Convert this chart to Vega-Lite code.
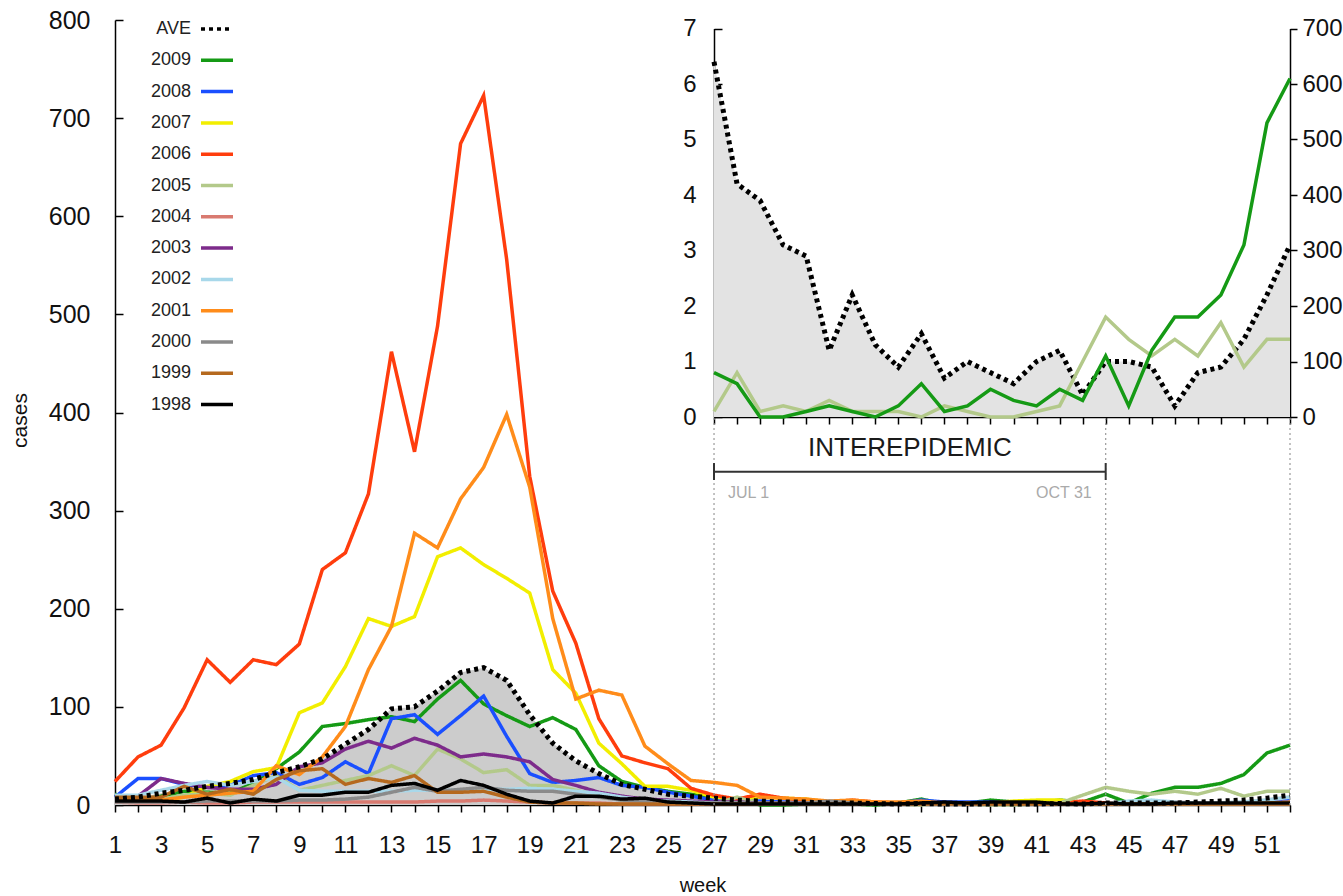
{
  "$schema": "https://vega.github.io/schema/vega-lite/v6.json",
  "autosize": {"type": "none"},
  "width": 1175,
  "height": 785,
  "padding": {"left": 115, "top": 20, "right": 53, "bottom": 91},
  "background": "white",
  "config": {
    "view": {"stroke": null},
    "font": "Liberation Sans",
    "axis": {"grid": false, "domainColor": "#000", "tickColor": "#000", "labelColor": "#111", "titleColor": "#111", "labelFont": "Liberation Sans", "titleFont": "Liberation Sans", "titleFontWeight": "normal", "domainWidth": 1.5, "tickWidth": 1.5}
  },
  "datasets": {
    "weekly": [
      {"week":1,"AVE":6,"2009":11,"2008":8,"2007":4,"2006":24,"2005":5,"2004":3,"2003":9,"2002":10,"2001":5,"2000":3,"1999":8,"1998":4},
      {"week":2,"AVE":8,"2009":5,"2008":27,"2007":4,"2006":49,"2005":5,"2004":2,"2003":9,"2002":10,"2001":5,"2000":3,"1999":8,"1998":4},
      {"week":3,"AVE":12,"2009":9,"2008":27,"2007":5,"2006":61,"2005":6,"2004":2,"2003":27,"2002":15,"2001":5,"2000":3,"1999":8,"1998":4},
      {"week":4,"AVE":15,"2009":14,"2008":21,"2007":8,"2006":99,"2005":10,"2004":3,"2003":22,"2002":20,"2001":8,"2000":3,"1999":19,"1998":3},
      {"week":5,"AVE":19,"2009":13,"2008":18,"2007":19,"2006":148,"2005":12,"2004":2,"2003":18,"2002":24,"2001":10,"2000":4,"1999":11,"1998":7},
      {"week":6,"AVE":22,"2009":12,"2008":20,"2007":24,"2006":125,"2005":10,"2004":2,"2003":16,"2002":20,"2001":12,"2000":4,"1999":16,"1998":2},
      {"week":7,"AVE":26,"2009":22,"2008":30,"2007":34,"2006":148,"2005":20,"2004":3,"2003":16,"2002":24,"2001":14,"2000":4,"1999":11,"1998":6},
      {"week":8,"AVE":33,"2009":37,"2008":33,"2007":38,"2006":143,"2005":30,"2004":3,"2003":21,"2002":28,"2001":40,"2000":4,"1999":26,"1998":4},
      {"week":9,"AVE":39,"2009":54,"2008":21,"2007":94,"2006":164,"2005":15,"2004":3,"2003":39,"2002":15,"2001":31,"2000":5,"1999":35,"1998":10},
      {"week":10,"AVE":47,"2009":80,"2008":28,"2007":104,"2006":240,"2005":20,"2004":3,"2003":43,"2002":14,"2001":49,"2000":5,"1999":37,"1998":10},
      {"week":11,"AVE":62,"2009":83,"2008":44,"2007":141,"2006":257,"2005":25,"2004":3,"2003":57,"2002":14,"2001":80,"2000":6,"1999":21,"1998":13},
      {"week":12,"AVE":77,"2009":87,"2008":32,"2007":190,"2006":317,"2005":30,"2004":3,"2003":65,"2002":14,"2001":138,"2000":8,"1999":27,"1998":13},
      {"week":13,"AVE":98,"2009":90,"2008":88,"2007":182,"2006":462,"2005":40,"2004":3,"2003":58,"2002":14,"2001":182,"2000":13,"1999":23,"1998":20},
      {"week":14,"AVE":100,"2009":85,"2008":92,"2007":192,"2006":360,"2005":30,"2004":3,"2003":68,"2002":15,"2001":277,"2000":18,"1999":30,"1998":22},
      {"week":15,"AVE":116,"2009":108,"2008":72,"2007":253,"2006":488,"2005":57,"2004":4,"2003":61,"2002":15,"2001":262,"2000":14,"1999":13,"1998":15},
      {"week":16,"AVE":135,"2009":127,"2008":91,"2007":262,"2006":674,"2005":47,"2004":4,"2003":49,"2002":15,"2001":312,"2000":16,"1999":13,"1998":25},
      {"week":17,"AVE":140,"2009":103,"2008":111,"2007":245,"2006":723,"2005":33,"2004":5,"2003":52,"2002":16,"2001":344,"2000":18,"1999":14,"1998":20},
      {"week":18,"AVE":127,"2009":91,"2008":70,"2007":231,"2006":556,"2005":36,"2004":4,"2003":49,"2002":16,"2001":398,"2000":15,"1999":8,"1998":11},
      {"week":19,"AVE":92,"2009":80,"2008":32,"2007":216,"2006":335,"2005":20,"2004":3,"2003":44,"2002":17,"2001":324,"2000":14,"1999":3,"1998":4},
      {"week":20,"AVE":63,"2009":89,"2008":23,"2007":138,"2006":218,"2005":20,"2004":2,"2003":26,"2002":16,"2001":190,"2000":14,"1999":2,"1998":2},
      {"week":21,"AVE":45,"2009":77,"2008":25,"2007":114,"2006":165,"2005":15,"2004":2,"2003":20,"2002":14,"2001":108,"2000":11,"1999":2,"1998":9},
      {"week":22,"AVE":32,"2009":40,"2008":28,"2007":63,"2006":88,"2005":10,"2004":2,"2003":13,"2002":12,"2001":117,"2000":8,"1999":1,"1998":9},
      {"week":23,"AVE":21,"2009":24,"2008":20,"2007":42,"2006":50,"2005":5,"2004":1,"2003":9,"2002":8,"2001":112,"2000":5,"1999":1,"1998":6},
      {"week":24,"AVE":16,"2009":18,"2008":18,"2007":19,"2006":43,"2005":3,"2004":1,"2003":6,"2002":5,"2001":60,"2000":4,"1999":1,"1998":7},
      {"week":25,"AVE":11,"2009":14,"2008":13,"2007":19,"2006":37,"2005":2,"2004":1,"2003":5,"2002":4,"2001":42,"2000":3,"1999":1,"1998":3},
      {"week":26,"AVE":9,"2009":11,"2008":9,"2007":15,"2006":17,"2005":2,"2004":1,"2003":4,"2002":3,"2001":25,"2000":2,"1999":1,"1998":2},
      {"week":27,"AVE":7,"2009":8,"2008":5,"2007":8,"2006":10,"2005":1,"2004":1,"2003":3,"2002":2,"2001":23,"2000":2,"1999":1,"1998":1,"AVE_inset":6.4,"i2009":0.8,"i2005":0.1},
      {"week":28,"AVE":5,"2009":6,"2008":4,"2007":6,"2006":6,"2005":8,"2004":1,"2003":3,"2002":2,"2001":20,"2000":2,"1999":1,"1998":1,"AVE_inset":4.2,"i2009":0.6,"i2005":0.8},
      {"week":29,"AVE":4,"2009":0,"2008":4,"2007":8,"2006":11,"2005":1,"2004":1,"2003":2,"2002":1,"2001":8,"2000":2,"1999":1,"1998":1,"AVE_inset":3.9,"i2009":0,"i2005":0.1},
      {"week":30,"AVE":3,"2009":0,"2008":3,"2007":7,"2006":7,"2005":2,"2004":1,"2003":2,"2002":1,"2001":7,"2000":2,"1999":1,"1998":1,"AVE_inset":3.1,"i2009":0,"i2005":0.2},
      {"week":31,"AVE":3,"2009":1,"2008":3,"2007":6,"2006":5,"2005":1,"2004":1,"2003":2,"2002":1,"2001":6,"2000":2,"1999":1,"1998":1,"AVE_inset":2.9,"i2009":0.1,"i2005":0.1},
      {"week":32,"AVE":2,"2009":2,"2008":2,"2007":3,"2006":3,"2005":3,"2004":1,"2003":2,"2002":1,"2001":4,"2000":4,"1999":1,"1998":1,"AVE_inset":1.2,"i2009":0.2,"i2005":0.3},
      {"week":33,"AVE":2,"2009":1,"2008":2,"2007":3,"2006":5,"2005":1,"2004":1,"2003":2,"2002":1,"2001":5,"2000":2,"1999":1,"1998":1,"AVE_inset":2.2,"i2009":0.1,"i2005":0.1},
      {"week":34,"AVE":1.5,"2009":0,"2008":2,"2007":2,"2006":3,"2005":1,"2004":1,"2003":1,"2002":1,"2001":3,"2000":1,"1999":1,"1998":1,"AVE_inset":1.3,"i2009":0,"i2005":0.1},
      {"week":35,"AVE":1,"2009":2,"2008":2,"2007":2,"2006":2,"2005":1,"2004":1,"2003":1,"2002":1,"2001":3,"2000":1,"1999":1,"1998":1,"AVE_inset":0.9,"i2009":0.2,"i2005":0.1},
      {"week":36,"AVE":1.5,"2009":6,"2008":5,"2007":2,"2006":2,"2005":0,"2004":1,"2003":1,"2002":1,"2001":4,"2000":1,"1999":1,"1998":2,"AVE_inset":1.5,"i2009":0.6,"i2005":0},
      {"week":37,"AVE":1,"2009":1,"2008":3,"2007":2,"2006":1,"2005":2,"2004":1,"2003":1,"2002":1,"2001":2,"2000":1,"1999":1,"1998":3,"AVE_inset":0.7,"i2009":0.1,"i2005":0.2},
      {"week":38,"AVE":1,"2009":2,"2008":3,"2007":2,"2006":1,"2005":1,"2004":1,"2003":1,"2002":1,"2001":2,"2000":1,"1999":1,"1998":2,"AVE_inset":1.0,"i2009":0.2,"i2005":0.1},
      {"week":39,"AVE":1,"2009":5,"2008":3,"2007":2,"2006":1,"2005":0,"2004":1,"2003":1,"2002":1,"2001":1,"2000":1,"1999":1,"1998":3,"AVE_inset":0.8,"i2009":0.5,"i2005":0},
      {"week":40,"AVE":1,"2009":3,"2008":2,"2007":4,"2006":1,"2005":0,"2004":1,"2003":1,"2002":1,"2001":1,"2000":1,"1999":1,"1998":3,"AVE_inset":0.6,"i2009":0.3,"i2005":0},
      {"week":41,"AVE":1,"2009":2,"2008":1,"2007":5,"2006":1,"2005":1,"2004":1,"2003":1,"2002":1,"2001":1,"2000":1,"1999":1,"1998":3,"AVE_inset":1.0,"i2009":0.2,"i2005":0.1},
      {"week":42,"AVE":1.5,"2009":5,"2008":1,"2007":5,"2006":2,"2005":2,"2004":1,"2003":1,"2002":1,"2001":1,"2000":1,"1999":1,"1998":1,"AVE_inset":1.2,"i2009":0.5,"i2005":0.2},
      {"week":43,"AVE":1,"2009":3,"2008":1,"2007":2,"2006":4,"2005":10,"2004":1,"2003":1,"2002":1,"2001":1,"2000":1,"1999":1,"1998":1,"AVE_inset":0.4,"i2009":0.3,"i2005":1.0},
      {"week":44,"AVE":2,"2009":11,"2008":1,"2007":1,"2006":2,"2005":18,"2004":1,"2003":1,"2002":1,"2001":1,"2000":1,"1999":1,"1998":2,"AVE_inset":1.0,"i2009":1.1,"i2005":1.8},
      {"week":45,"AVE":2,"2009":2,"2008":1,"2007":1,"2006":1,"2005":14,"2004":1,"2003":1,"2002":4,"2001":1,"2000":1,"1999":1,"1998":1,"AVE_inset":1.0,"i2009":0.2,"i2005":1.4},
      {"week":46,"AVE":2,"2009":12,"2008":1,"2007":1,"2006":1,"2005":11,"2004":1,"2003":1,"2002":5,"2001":1,"2000":1,"1999":1,"1998":1,"AVE_inset":0.9,"i2009":1.2,"i2005":1.1},
      {"week":47,"AVE":2,"2009":18,"2008":1,"2007":1,"2006":1,"2005":14,"2004":3,"2003":1,"2002":3,"2001":1,"2000":1,"1999":1,"1998":2,"AVE_inset":0.2,"i2009":1.8,"i2005":1.4},
      {"week":48,"AVE":3,"2009":18,"2008":1,"2007":1,"2006":1,"2005":11,"2004":2,"2003":1,"2002":2,"2001":1,"2000":1,"1999":1,"1998":2,"AVE_inset":0.8,"i2009":1.8,"i2005":1.1},
      {"week":49,"AVE":4,"2009":22,"2008":1,"2007":1,"2006":1,"2005":17,"2004":1,"2003":1,"2002":2,"2001":1,"2000":1,"1999":1,"1998":2,"AVE_inset":0.9,"i2009":2.2,"i2005":1.7},
      {"week":50,"AVE":5,"2009":31,"2008":2,"2007":1,"2006":1,"2005":9,"2004":1,"2003":1,"2002":3,"2001":1,"2000":1,"1999":1,"1998":2,"AVE_inset":1.4,"i2009":3.1,"i2005":0.9},
      {"week":51,"AVE":7,"2009":53,"2008":3,"2007":2,"2006":1,"2005":14,"2004":1,"2003":1,"2002":5,"2001":2,"2000":1,"1999":1,"1998":2,"AVE_inset":2.2,"i2009":5.3,"i2005":1.4},
      {"week":52,"AVE":10,"2009":61,"2008":5,"2007":2,"2006":1,"2005":14,"2004":1,"2003":1,"2002":8,"2001":3,"2000":1,"1999":1,"1998":2,"AVE_inset":3.1,"i2009":6.1,"i2005":1.4}
    ],
    "boundaries": [{"week": 27, "label": "JUL 1"}, {"week": 44, "label": "OCT 31"}, {"week": 52, "label": ""}],
    "period": [{"start": 27, "end": 44, "label": "INTEREPIDEMIC"}]
  },
  "layer": [
    {
      "encoding": {
        "x": {"field": "week", "type": "quantitative",
          "scale": {"domain": [1, 52], "nice": false, "zero": false},
          "axis": {"orient": "bottom", "values": [1,2,3,4,5,6,7,8,9,10,11,12,13,14,15,16,17,18,19,20,21,22,23,24,25,26,27,28,29,30,31,32,33,34,35,36,37,38,39,40,41,42,43,44,45,46,47,48,49,50,51,52],
            "labelExpr": "datum.value % 2 == 1 ? datum.label : ''", "labelOverlap": false, "labelFlush": false,
            "tickSize": 7, "labelPadding": 21, "labelFontSize": 24,
            "title": "week", "titleFontSize": 20, "titleX": 587.5, "titleY": 80, "titleBaseline": "middle"}},
        "y": {"field": "cases", "type": "quantitative",
          "scale": {"domain": [0, 800], "nice": false},
          "axis": {"values": [0,100,200,300,400,500,600,700,800], "tickSize": -8, "labelPadding": 33, "labelFontSize": 25,
            "title": "cases", "titleFontSize": 21, "titleX": -95, "titleY": 400, "titleAngle": 270, "titleAlign": "center", "titleBaseline": "middle"}}
      },
      "layer": [
        {
          "data": {"name": "weekly"},
          "transform": [{"fold": ["AVE"], "as": ["series", "cases"]}],
          "mark": {"type": "area", "color": "#cccccc"}
        },
        {
          "data": {"name": "weekly"},
          "transform": [{"fold": ["2009","2008","2007","2006","2005","2004","2003","2002","2001","2000","1999","1998"], "as": ["series", "cases"]}],
          "mark": {"type": "line", "strokeWidth": 3.5},
          "encoding": {
            "color": {"field": "series", "type": "nominal",
              "scale": {"domain": ["AVE","2009","2008","2007","2006","2005","2004","2003","2002","2001","2000","1999","1998"],
                        "range": ["#000000","#159a15","#1a4fff","#f2ee00","#ff3d0d","#b3c98a","#d97a70","#7d2b8b","#a8d8ea","#ff8c1a","#8a8a8a","#b5691e","#000000"]},
              "legend": {"orient": "none", "legendX": 84, "legendY": -9, "title": null, "symbolType": "stroke", "symbolSize": 1024, "symbolStrokeWidth": 3.5, "labelAlign": "right", "labelOffset": -44, "labelFontSize": 18, "labelColor": "#222", "labelFont": "Liberation Sans", "rowPadding": 4.3, "padding": 0}},
            "strokeDash": {"field": "series", "type": "nominal",
              "scale": {"domain": ["AVE","2009","2008","2007","2006","2005","2004","2003","2002","2001","2000","1999","1998"],
                        "range": [[4,4],[1,0],[1,0],[1,0],[1,0],[1,0],[1,0],[1,0],[1,0],[1,0],[1,0],[1,0],[1,0]]},
              "legend": {"orient": "none", "legendX": 84, "legendY": -9, "title": null, "symbolType": "stroke", "symbolSize": 1024, "symbolStrokeWidth": 3.5, "labelAlign": "right", "labelOffset": -44, "labelFontSize": 18, "labelColor": "#222", "labelFont": "Liberation Sans", "rowPadding": 4.3, "padding": 0}}
          }
        },
        {
          "data": {"name": "weekly"},
          "transform": [{"fold": ["AVE"], "as": ["series", "cases"]}],
          "mark": {"type": "line", "strokeWidth": 5},
          "encoding": {
            "color": {"field": "series", "type": "nominal"},
            "strokeDash": {"field": "series", "type": "nominal"}
          }
        }
      ]
    },
    {
      "encoding": {
        "x": {"field": "week", "type": "quantitative",
          "scale": {"domain": [27, 52], "range": [599, 1175], "nice": false, "zero": false},
          "axis": {"orient": "bottom", "offset": -388, "values": [27,28,29,30,31,32,33,34,35,36,37,38,39,40,41,42,43,44,45,46,47,48,49,50,51,52], "labels": false, "title": null, "tickSize": 7}}
      },
      "layer": [
        {
          "data": {"name": "weekly"},
          "transform": [{"filter": "datum.week >= 27"}, {"fold": ["AVE_inset", "i2005", "i2009"], "as": ["series", "val"]}],
          "encoding": {
            "y": {"field": "val", "type": "quantitative",
              "scale": {"domain": [0, 7], "range": [397, 8.5], "nice": false},
              "axis": {"orient": "left", "offset": -599, "values": [0,1,2,3,4,5,6,7], "tickSize": -8, "labelPadding": 26, "labelFontSize": 24, "title": null}}
          },
          "layer": [
            {"transform": [{"filter": "datum.series == 'AVE_inset'"}], "mark": {"type": "area", "color": "#e3e3e3"}},
            {"transform": [{"filter": "datum.series == 'AVE_inset'"}], "mark": {"type": "line", "color": "#000000", "strokeWidth": 5, "strokeDash": [4, 4]}},
            {
              "transform": [{"filter": "datum.series != 'AVE_inset'"}],
              "mark": {"type": "line", "strokeWidth": 3.5},
              "encoding": {
                "color": {"field": "series", "type": "nominal",
                  "scale": {"domain": ["i2005", "i2009"], "range": ["#b3c98a", "#159a15"]}, "legend": null}
              }
            }
          ]
        },
        {
          "data": {"values": [{"axis": "right"}]},
          "mark": {"type": "rule", "opacity": 0},
          "encoding": {
            "y": {"datum": 0, "type": "quantitative",
              "scale": {"domain": [0, 700], "range": [397, 8.5], "nice": false},
              "axis": {"orient": "right", "values": [0,100,200,300,400,500,600,700], "tickSize": 7, "labelPadding": 5, "labelFontSize": 24, "title": null}}
          }
        }
      ],
      "resolve": {"scale": {"y": "independent"}}
    },
    {
      "layer": [
        {
          "data": {"name": "boundaries"},
          "mark": {"type": "rule", "color": "#9a9a9a", "strokeWidth": 1.2, "strokeDash": [2, 3]},
          "encoding": {
            "x": {"field": "week", "type": "quantitative", "scale": {"domain": [1, 52], "nice": false, "zero": false}, "axis": null},
            "y": {"datum": 0, "type": "quantitative", "scale": {"domain": [0, 800], "nice": false}, "axis": null},
            "y2": {"datum": 395.4}
          }
        },
        {
          "data": {"name": "boundaries"},
          "transform": [{"filter": "datum.week < 50"}],
          "mark": {"type": "rule", "color": "#333333", "strokeWidth": 2},
          "encoding": {
            "x": {"field": "week", "type": "quantitative", "scale": {"domain": [1, 52], "nice": false, "zero": false}, "axis": null},
            "y": {"datum": 331.2, "type": "quantitative", "scale": {"domain": [0, 800], "nice": false}, "axis": null},
            "y2": {"datum": 348.5}
          }
        },
        {
          "data": {"name": "boundaries"},
          "transform": [{"filter": "datum.week < 50"}],
          "mark": {"type": "text", "fontSize": 16, "color": "#aaaaaa", "baseline": "middle", "align": {"expr": "datum.week < 30 ? 'left' : 'right'"}, "dx": {"expr": "datum.week < 30 ? 14 : -14"}},
          "encoding": {
            "x": {"field": "week", "type": "quantitative", "scale": {"domain": [1, 52], "nice": false, "zero": false}, "axis": null},
            "y": {"datum": 318, "type": "quantitative", "scale": {"domain": [0, 800], "nice": false}, "axis": null},
            "text": {"field": "label"}
          }
        },
        {
          "data": {"name": "period"},
          "mark": {"type": "rule", "color": "#333333", "strokeWidth": 2},
          "encoding": {
            "x": {"field": "start", "type": "quantitative", "scale": {"domain": [1, 52], "nice": false, "zero": false}, "axis": null},
            "x2": {"field": "end"},
            "y": {"datum": 339.7, "type": "quantitative", "scale": {"domain": [0, 800], "nice": false}, "axis": null}
          }
        },
        {
          "data": {"name": "period"},
          "mark": {"type": "text", "fontSize": 26, "color": "#1a1a1a", "align": "center", "baseline": "middle"},
          "encoding": {
            "x": {"datum": 35.5, "type": "quantitative", "scale": {"domain": [1, 52], "nice": false, "zero": false}, "axis": null},
            "y": {"datum": 364.3, "type": "quantitative", "scale": {"domain": [0, 800], "nice": false}, "axis": null},
            "text": {"field": "label"}
          }
        }
      ]
    }
  ],
  "resolve": {"scale": {"x": "independent", "y": "independent", "color": "independent", "strokeDash": "independent"}}
}
